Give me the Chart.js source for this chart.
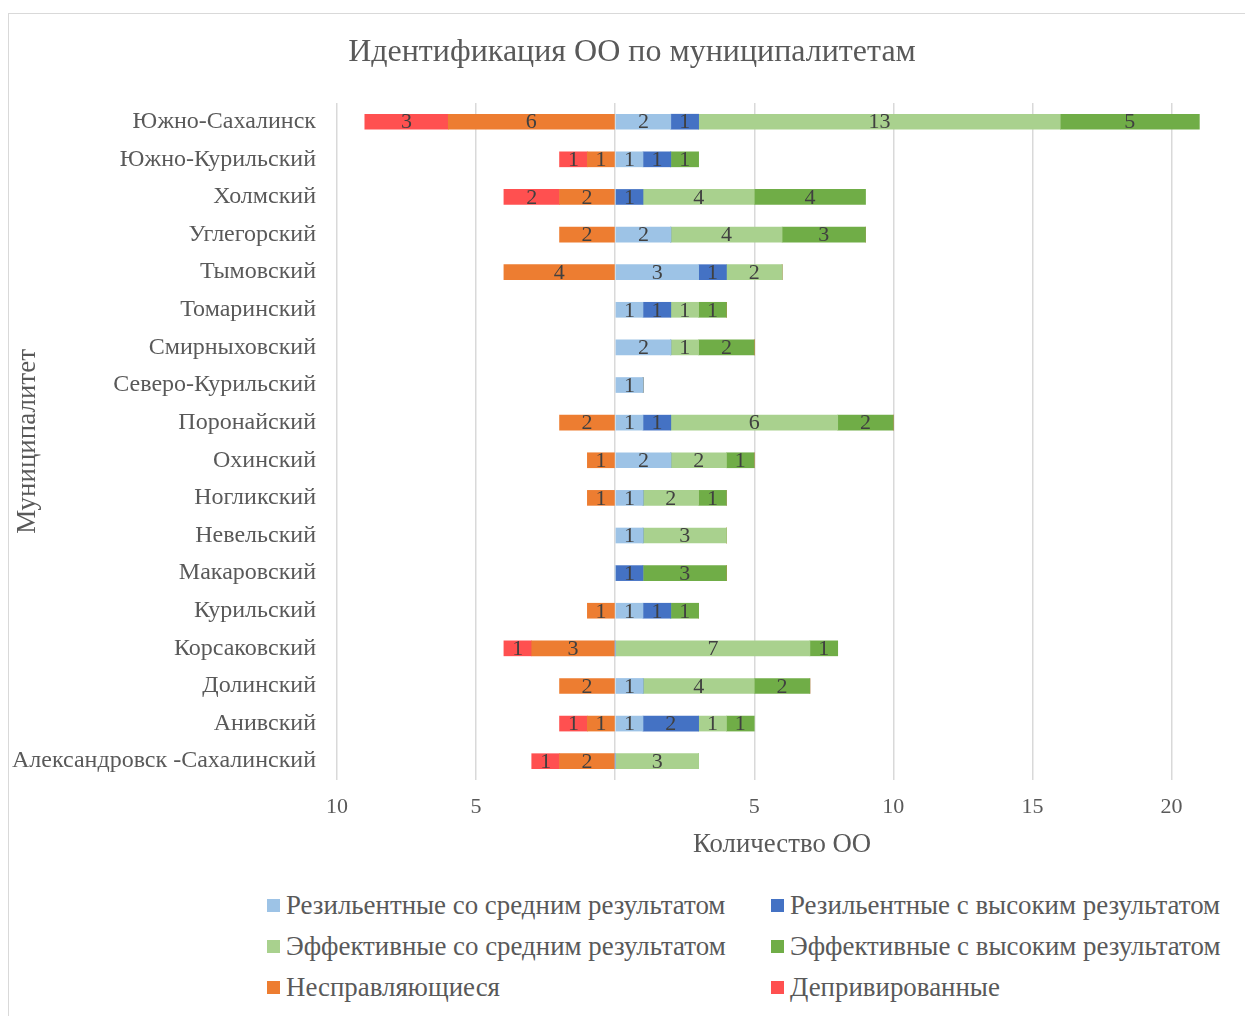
<!DOCTYPE html>
<html>
<head>
<meta charset="utf-8">
<script src="https://cdn.jsdelivr.net/npm/chart.js@4.4.0/dist/chart.umd.min.js"></script>
<style>
  body { margin: 0; background: #fff; overflow: hidden; width: 1245px; height: 1016px; position: relative; }
  #box { position: absolute; left: 8px; top: 13px; width: 1250px; height: 1010px; border: 1px solid #d9d9d9; }
  #wrap { position: absolute; left: 0; top: 0; width: 1246px; height: 851px; }
  .legend { position: absolute; font-family: "Liberation Serif", serif; font-size: 26.9px; line-height: 30px; color: #595959; white-space: nowrap; }
  .legend span { display: inline-block; width: 13px; height: 13px; margin-right: 6px; vertical-align: 2px; }
</style>
</head>
<body>
<div id="box">
  <div id="wrap"><canvas id="chart"></canvas></div>
  <div id="legend"></div>
</div>
<script>
'use strict';

let municipalities = ['Южно-Сахалинск', 'Южно-Курильский', 'Холмский', 'Углегорский', 'Тымовский',
  'Томаринский', 'Смирныховский', 'Северо-Курильский', 'Поронайский', 'Охинский', 'Ногликский',
  'Невельский', 'Макаровский', 'Курильский', 'Корсаковский', 'Долинский', 'Анивский',
  'Александровск -Сахалинский'];

let resMid  = [2, 1, 0, 2, 3, 1, 2, 1, 1, 2, 1, 1, 0, 1, 0, 1, 1, 0];
let resHigh = [1, 1, 1, 0, 1, 1, 0, 0, 1, 0, 0, 0, 1, 1, 0, 0, 2, 0];
let effMid  = [13, 0, 4, 4, 2, 1, 1, 0, 6, 2, 2, 3, 0, 0, 7, 4, 1, 3];
let effHigh = [5, 1, 4, 3, 0, 1, 2, 0, 2, 1, 1, 0, 3, 1, 1, 2, 1, 0];
let failing = [6, 1, 2, 2, 4, 0, 0, 0, 2, 1, 1, 0, 0, 1, 3, 2, 1, 2];
let deprived = [3, 1, 2, 0, 0, 0, 0, 0, 0, 0, 0, 0, 0, 0, 1, 0, 1, 1];

let xTicks = [-10, -5, 0, 5, 10, 15, 20];

let gray = '#595959';
let serif = '"Liberation Serif", "Times New Roman", serif';

let seriesList = [
  { label: 'Резильентные со средним результатом', data: resMid, color: '#9DC3E6', sign: 1 },
  { label: 'Резильентные с высоким результатом', data: resHigh, color: '#4472C4', sign: 1 },
  { label: 'Эффективные со средним результатом', data: effMid, color: '#A9D18E', sign: 1 },
  { label: 'Эффективные с высоким результатом', data: effHigh, color: '#70AD47', sign: 1 },
  { label: 'Несправляющиеся', data: failing, color: '#ED7D31', sign: -1 },
  { label: 'Депривированные', data: deprived, color: '#FF5050', sign: -1 }
];

// html legend, two columns like the original
let legendElem = document.getElementById('legend');
for (let i = 0; i < seriesList.length; i++) {
  let item = document.createElement('div');
  item.className = 'legend';
  item.style.left = (i % 2 === 0 ? 258 : 762) + 'px';
  item.style.top = (876 + Math.floor(i / 2) * 41) + 'px';
  item.innerHTML = '<span style="background:' + seriesList[i].color + '"></span>' + seriesList[i].label;
  legendElem.appendChild(item);
}

let valueLabels = {
  id: 'valueLabels',
  afterDatasetsDraw(chart) {
    let ctx = chart.ctx;
    ctx.save();
    ctx.font = '22px ' + serif;
    ctx.fillStyle = '#404040';
    ctx.textAlign = 'center';
    ctx.textBaseline = 'middle';
    chart.data.datasets.forEach((ds, i) => {
      let meta = chart.getDatasetMeta(i);
      meta.data.forEach((bar, j) => {
        let v = ds.data[j];
        if (!v) return;
        ctx.fillText(Math.abs(v), (bar.x + bar.base) / 2, bar.y + 1);
      });
    });
    ctx.restore();
  }
};

// x axis title, centred under the -10..22 span like the original
let xAxisTitle = {
  id: 'xAxisTitle',
  afterDraw(chart) {
    let ctx = chart.ctx;
    let x = chart.scales.x;
    ctx.save();
    ctx.font = '26.8px ' + serif;
    ctx.fillStyle = gray;
    ctx.textAlign = 'center';
    ctx.textBaseline = 'middle';
    ctx.fillText('Количество ОО', x.getPixelForValue(6), x.bottom - 20);
    ctx.restore();
  }
};

new Chart(document.getElementById('chart'), {
  type: 'bar',
  data: {
    labels: municipalities,
    datasets: seriesList.map(s => ({
      label: s.label,
      data: s.data.map(v => v * s.sign),
      backgroundColor: s.color,
      borderWidth: 0,
      barThickness: 15
    }))
  },
  options: {
    indexAxis: 'y',
    responsive: true,
    maintainAspectRatio: false,
    animation: false,
    layout: { padding: 0 },
    plugins: {
      legend: { display: false },
      tooltip: { enabled: false },
      title: {
        display: true,
        text: 'Идентификация ОО по муниципалитетам',
        color: gray,
        font: { family: serif, size: 32, weight: 'normal' },
        padding: { top: 19, bottom: 31.5 }
      }
    },
    scales: {
      x: {
        stacked: true,
        min: -10,
        max: 23,
        afterBuildTicks: axis => { axis.ticks = xTicks.map(v => ({ value: v })); },
        afterFit: axis => { axis.height = 85; },
        grid: { color: '#d9d9d9', lineWidth: 1.5, drawTicks: false },
        border: { display: false },
        ticks: {
          color: gray,
          font: { family: serif, size: 22 },
          padding: 14,
          callback: v => (v === 0 ? '' : Math.abs(v))
        },
        title: { display: false }
      },
      y: {
        stacked: true,
        afterFit: axis => { axis.width = 328; },
        grid: { display: false, drawTicks: false },
        border: { display: false },
        ticks: {
          color: gray,
          font: { family: serif, size: 24 },
          padding: 21,
          autoSkip: false
        },
        title: {
          display: true,
          text: 'Муниципалитет',
          color: gray,
          font: { family: serif, size: 27 },
          padding: { top: 3, bottom: 4 }
        }
      }
    }
  },
  plugins: [valueLabels, xAxisTitle]
});
</script>
</body>
</html>
